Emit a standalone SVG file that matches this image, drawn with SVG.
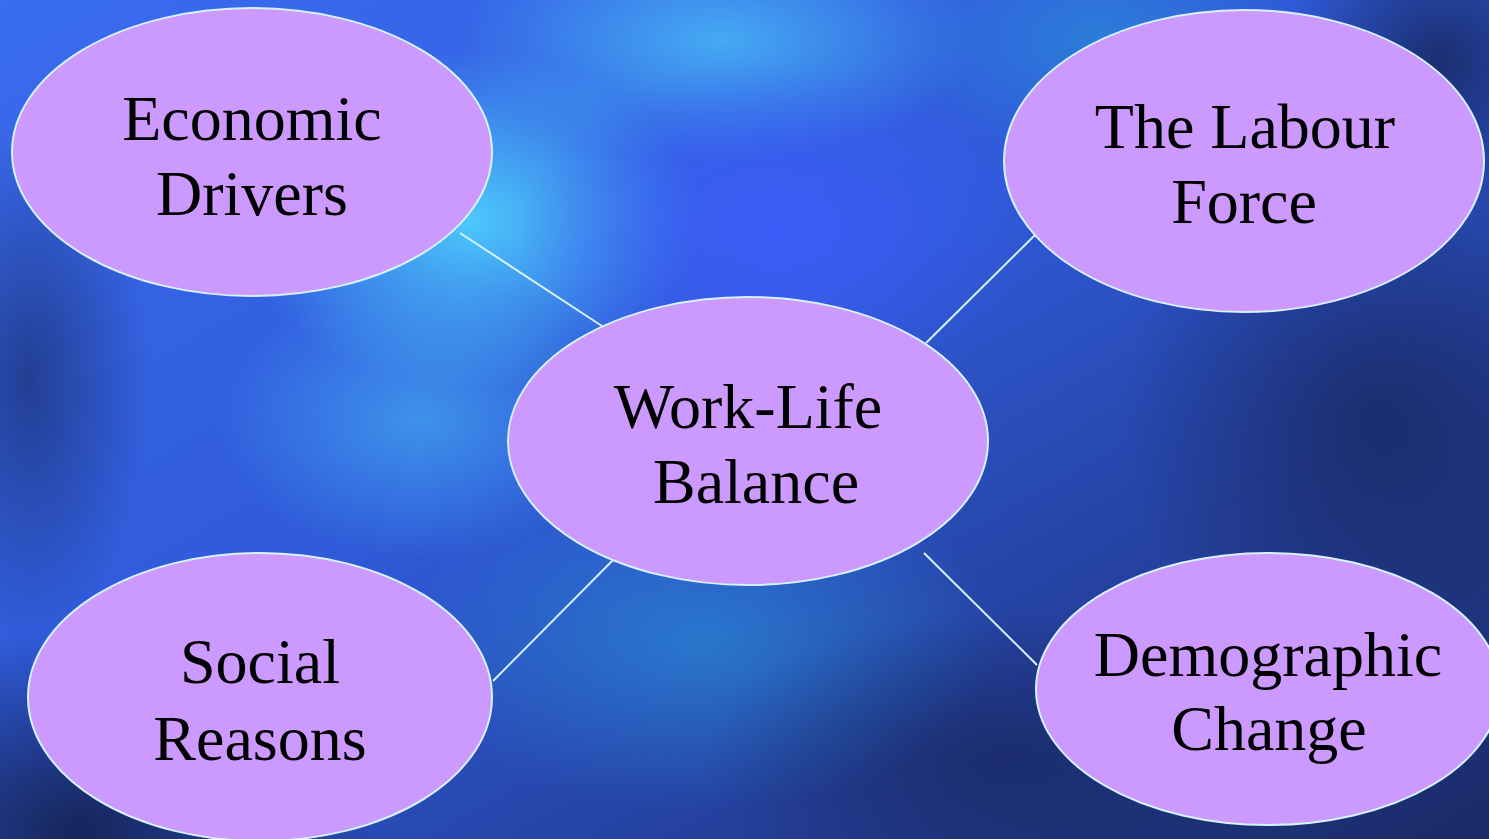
<svg xmlns="http://www.w3.org/2000/svg" width="1489" height="839" viewBox="0 0 1489 839">
<defs>
<linearGradient id="bg" x1="0" y1="0" x2="1" y2="1">
<stop offset="0" stop-color="#3a6cf0"/>
<stop offset="0.45" stop-color="#2f5ad8"/>
<stop offset="0.75" stop-color="#243f9a"/>
<stop offset="1" stop-color="#1a2a66"/>
</linearGradient>
<radialGradient id="g1" cx="0.5" cy="0.5" r="0.5">
<stop offset="0" stop-color="#4fd4ff" stop-opacity="0.9"/>
<stop offset="1" stop-color="#4fd4ff" stop-opacity="0"/>
</radialGradient>
<radialGradient id="g2" cx="0.5" cy="0.5" r="0.5">
<stop offset="0" stop-color="#3f5cff" stop-opacity="0.8"/>
<stop offset="1" stop-color="#3f5cff" stop-opacity="0"/>
</radialGradient>
<radialGradient id="g3" cx="0.5" cy="0.5" r="0.5">
<stop offset="0" stop-color="#14204e" stop-opacity="0.9"/>
<stop offset="1" stop-color="#14204e" stop-opacity="0"/>
</radialGradient>
<radialGradient id="g4" cx="0.5" cy="0.5" r="0.5">
<stop offset="0" stop-color="#2a8ad8" stop-opacity="0.7"/>
<stop offset="1" stop-color="#2a8ad8" stop-opacity="0"/>
</radialGradient>
<style>
.node ellipse{fill:#cc99ff;stroke:#d6f2ff;stroke-width:2}
.node text{font-family:"Liberation Serif","Times New Roman",serif;font-size:64px;fill:#000;text-anchor:middle}
.conn line{stroke:#d6f2ff;stroke-width:2}
</style>
</defs>
<g id="background">
<rect width="1489" height="839" fill="url(#bg)"/>
<ellipse cx="470" cy="220" rx="230" ry="170" fill="url(#g1)"/>
<ellipse cx="720" cy="40" rx="260" ry="120" fill="url(#g1)" opacity="0.7"/>
<ellipse cx="420" cy="420" rx="200" ry="140" fill="url(#g1)" opacity="0.5"/>
<ellipse cx="780" cy="230" rx="260" ry="170" fill="url(#g2)"/>
<ellipse cx="700" cy="640" rx="300" ry="170" fill="url(#g4)"/>
<ellipse cx="1100" cy="40" rx="200" ry="120" fill="url(#g4)"/>
<ellipse cx="1380" cy="420" rx="260" ry="260" fill="url(#g3)" opacity="0.7"/>
<ellipse cx="1440" cy="60" rx="160" ry="160" fill="url(#g3)" opacity="0.8"/>
<ellipse cx="80" cy="830" rx="300" ry="200" fill="url(#g3)"/>
<ellipse cx="30" cy="380" rx="120" ry="260" fill="url(#g3)" opacity="0.6"/>
<ellipse cx="1000" cy="760" rx="300" ry="150" fill="url(#g3)" opacity="0.6"/>
</g>
<g id="connectors" class="conn">
<line x1="460" y1="233" x2="605" y2="328"/>
<line x1="926" y1="343" x2="1036" y2="234"/>
<line x1="493" y1="681" x2="620" y2="553"/>
<line x1="924" y1="553" x2="1037" y2="665"/>
</g>
<g id="economic-drivers" class="node">
<ellipse cx="252" cy="152" rx="240" ry="144"/>
<text x="252" y="140">Economic</text>
<text x="252" y="215">Drivers</text>
</g>
<g id="labour-force" class="node">
<ellipse cx="1244" cy="161" rx="240" ry="151"/>
<text x="1245" y="148">The Labour</text>
<text x="1244" y="223">Force</text>
</g>
<g id="work-life-balance" class="node">
<ellipse cx="748" cy="441" rx="240" ry="144"/>
<text x="748" y="428">Work-Life</text>
<text x="756" y="503">Balance</text>
</g>
<g id="social-reasons" class="node">
<ellipse cx="260" cy="697" rx="232" ry="144"/>
<text x="260" y="683">Social</text>
<text x="260" y="760">Reasons</text>
</g>
<g id="demographic-change" class="node">
<ellipse cx="1268" cy="689" rx="232" ry="136"/>
<text x="1268" y="676">Demographic</text>
<text x="1269" y="750">Change</text>
</g>
</svg>
